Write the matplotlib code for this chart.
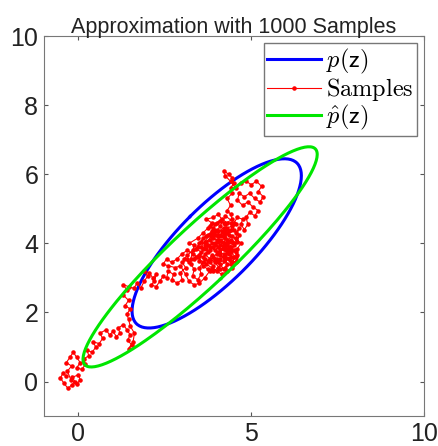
import matplotlib
matplotlib.use('Agg')
import matplotlib.pyplot as plt
import numpy as np

# true density p(z) and fitted density p_hat(z): mean + covariance (2-sigma contours)
p_mean = [4.0, 4.0]
p_cov = [[1.5, 1.2], [1.2, 1.5]]
phat_mean = [3.52, 3.61]
phat_cov = [[2.87, 2.51], [2.51, 2.54]]

# MCMC trace (approximate)
samples = [
    (-0.35, 0.15), (-0.45, 0.25), (-0.52, 0.1), (-0.42, -0.05), (-0.3, -0.2), (-0.2, -0.1),
    (-0.1, 0.0), (-0.18, 0.12), (0.0, 0.2), (0.05, 0.05), (-0.05, -0.08), (-0.22, 0.05),
    (-0.32, 0.3), (-0.2, 0.45), (-0.35, 0.55), (-0.25, 0.7), (-0.15, 0.85), (-0.05, 0.7),
    (0.05, 0.55), (-0.05, 0.4), (0.1, 0.35), (0.2, 0.5), (0.15, 0.65), (0.3, 0.75), (0.25, 0.9),
    (0.4, 0.85), (0.5, 1.0), (0.42, 1.15), (0.6, 1.1), (0.7, 1.25), (0.62, 1.4), (0.8, 1.5),
    (0.9, 1.35), (1.0, 1.45), (1.1, 1.3), (1.2, 1.4), (1.15, 1.55), (1.3, 1.65), (1.4, 1.5),
    (1.5, 1.35), (1.42, 1.2), (1.55, 1.05), (1.45, 0.95), (1.58, 1.15), (1.62, 1.4), (1.5, 1.6),
    (1.45, 1.8), (1.4, 1.95), (1.5, 2.1), (1.35, 2.2), (1.45, 2.35), (1.3, 2.5), (1.4, 2.65),
    (1.3, 2.8), (1.45, 2.75), (1.6, 2.7), (1.7, 2.85), (1.8, 2.7), (1.9, 2.9), (2.0, 3.05),
    (1.9, 3.2), (2.05, 3.15), (2.15, 3.0), (2.25, 3.1), (2.2, 2.9), (2.1, 2.8), (2.25, 2.75),
    (2.35, 2.9), (2.45, 3.05), (2.55, 3.0), (2.6, 3.2), (2.75, 3.1), (2.7, 2.95), (2.85, 2.85),
    (3.0, 2.95), (2.95, 3.15), (3.1, 3.3), (3.0, 3.45), (3.15, 3.55), (3.25, 3.4), (3.35, 3.25),
    (3.3, 3.05), (3.45, 2.95), (3.55, 3.1), (3.5, 3.3), (3.6, 3.45), (3.45, 3.6), (3.3, 3.7),
    (3.15, 3.8), (3.0, 3.7), (2.85, 3.55), (2.7, 3.45), (2.55, 3.55), (2.45, 3.4), (2.6, 3.35),
    (2.8, 3.3), (2.95, 3.35), (3.1, 3.1), (3.2, 2.9), (3.35, 2.8), (3.5, 2.85), (3.65, 3.0),
    (3.8, 3.2), (3.9, 3.35), (3.75, 3.5), (3.85, 3.65), (4.0, 3.55), (4.1, 3.4), (4.2, 3.25),
    (4.3, 3.4), (4.2, 3.6), (4.35, 3.7), (4.5, 3.6), (4.45, 3.45), (4.6, 3.5), (4.55, 3.75),
    (4.4, 3.9), (4.25, 3.85), (4.1, 3.95), (3.95, 3.8), (3.8, 3.9), (3.7, 4.05), (3.85, 4.2),
    (4.0, 4.1), (4.15, 4.2), (4.3, 4.1), (4.45, 4.2), (4.6, 4.05), (4.65, 4.25), (4.5, 4.4),
    (4.35, 4.35), (4.2, 4.45), (4.05, 4.35), (3.9, 4.45), (4.0, 4.6), (4.15, 4.7), (4.3, 4.6),
    (4.45, 4.7), (4.4, 4.85), (4.3, 4.95), (4.4, 5.1), (4.3, 5.3), (4.45, 5.45), (4.4, 5.6),
    (4.5, 5.75), (4.45, 5.9), (4.35, 6.0), (4.2, 6.1), (4.25, 5.95), (4.4, 5.8), (4.55, 5.6),
    (4.7, 5.75), (4.85, 5.8), (5.0, 5.7), (5.15, 5.8), (5.3, 5.65), (5.2, 5.5), (5.35, 5.35),
    (5.25, 5.2), (5.1, 5.3), (4.95, 5.45), (4.8, 5.35), (4.65, 5.45), (4.6, 5.25), (4.75, 5.1),
    (4.9, 5.2), (5.05, 5.05), (5.2, 4.95), (5.1, 4.8), (4.95, 4.9), (4.85, 4.75), (4.9, 4.55),
    (4.8, 4.4), (4.7, 4.55), (4.75, 4.7), (4.6, 4.75), (4.5, 4.6), (4.25, 4.8), (4.1, 4.5),
    (3.95, 4.25), (3.8, 4.1), (3.65, 3.95), (3.75, 3.75), (3.6, 3.6), (3.7, 3.4), (3.85, 3.3),
    (4.0, 3.2), (4.15, 3.1), (4.3, 3.2), (4.45, 3.3), (4.35, 3.55), (4.2, 3.7), (4.05, 3.75),
    (3.9, 3.6), (4.05, 3.45), (4.2, 3.5), (4.35, 3.9), (4.5, 4.0), (4.4, 4.1), (4.25, 4.0),
    (4.1, 4.1), (3.95, 4.0), (4.1, 3.85), (4.3, 3.75), (4.6, 3.85), (4.7, 4.0), (4.55, 4.15),
    (4.35, 4.25), (4.2, 4.3), (4.05, 4.2), (3.9, 4.3), (3.75, 4.25), (3.6, 4.15), (3.5, 4.0),
    (3.4, 3.85), (3.55, 3.75), (3.4, 3.6), (3.25, 3.55), (3.35, 3.95), (3.2, 4.0), (3.45, 4.15),
    (3.6, 4.3), (3.75, 4.45), (3.85, 4.6), (3.7, 4.7), (3.9, 4.75), (4.05, 4.85), (4.2, 4.6),
    (4.3, 4.45), (4.45, 4.5), (4.55, 4.3), (4.65, 4.45), (4.5, 3.95), (4.4, 3.75), (4.55, 3.6),
    (4.4, 3.4), (4.25, 3.3), (4.1, 3.25), (3.95, 3.45), (3.8, 3.55), (3.65, 3.7), (3.8, 3.8),
    (3.95, 3.95), (4.15, 4.05), (4.3, 3.95), (4.45, 4.05), (4.25, 4.15), (4.05, 4.05), (3.9, 4.15),
    (4.0, 4.4), (4.15, 4.35), (4.3, 4.3), (4.1, 3.65), (4.25, 3.55), (4.4, 3.6), (4.05, 3.3),
    (3.9, 3.2), (3.75, 3.25), (3.6, 3.35), (3.5, 3.5), (3.6, 3.85), (3.75, 3.95), (3.9, 3.9),
    (4.0, 3.7), (4.2, 3.85), (4.35, 4.05), (4.2, 4.2), (4.0, 4.25), (3.85, 4.35), (3.7, 4.2),
    (3.55, 4.05), (3.45, 3.9), (3.3, 3.8), (3.15, 3.65), (3.05, 3.55), (3.2, 3.45), (3.35, 3.55),
    (3.5, 3.65), (3.65, 3.55), (3.8, 3.45), (3.95, 3.55), (4.1, 3.55), (4.25, 3.65), (4.4, 3.5),
    (4.55, 3.45), (4.6, 3.65), (4.5, 3.8), (4.35, 3.8), (4.2, 3.95), (4.05, 3.9), (3.85, 4.0),
    (3.7, 3.85), (3.55, 3.9), (3.65, 4.05), (3.8, 4.25), (3.95, 4.35), (4.1, 4.25), (4.25, 4.35),
    (4.4, 4.4), (4.55, 4.55), (4.4, 4.6), (4.25, 4.55), (4.1, 4.65), (3.95, 4.55), (3.8, 4.5),
]

sx = [s[0] for s in samples]
sy = [s[1] for s in samples]


def ellipse_xy(mean, cov, k=2.0, n=200):
    vals, vecs = np.linalg.eigh(np.array(cov))
    t = np.linspace(0, 2 * np.pi, n)
    circ = np.vstack([np.cos(t), np.sin(t)])
    pts = vecs @ (k * np.sqrt(vals)[:, None] * circ)
    return pts[0] + mean[0], pts[1] + mean[1]


plt.rcParams['font.family'] = ['Liberation Sans', 'DejaVu Sans']
plt.rcParams['mathtext.fontset'] = 'cm'

fig = plt.figure(figsize=(4.39, 4.46), dpi=100)
ax = fig.add_axes([0.100, 0.067, 0.866, 0.852])

px, py = ellipse_xy(p_mean, p_cov)
ax.plot(px, py, color=(0, 0, 1), lw=2.2, label=r'$p(\mathsf{z})$')
ax.plot(sx, sy, color='r', lw=0.8, marker='.', ms=4.5, label=r'$\mathrm{Samples}$')
hx, hy = ellipse_xy(phat_mean, phat_cov)
ax.plot(hx, hy, color=(0, 0.9, 0), lw=2.2, label=r'$\hat{p}(\mathsf{z})$')

ax.set_xlim(-1, 10)
ax.set_ylim(-1, 10)
ax.set_xticks([0, 5, 10])
ax.set_yticks([0, 2, 4, 6, 8, 10])
ax.tick_params(direction='in', top=True, right=True, length=3, labelsize=18,
               colors='#555555', labelcolor='#222222', pad=4)
for sp in ax.spines.values():
    sp.set_color('#777777')
ax.set_title('Approximation with 1000 Samples', fontsize=15.5, color='#222222', pad=2)

leg = ax.legend(loc='upper right', fontsize=17.5, handlelength=2.2, borderaxespad=0.3,
                fancybox=False, framealpha=1, edgecolor='#777777', labelspacing=0.0,
                handletextpad=0.2, borderpad=0.15)

fig.savefig('out.png', dpi=100)
